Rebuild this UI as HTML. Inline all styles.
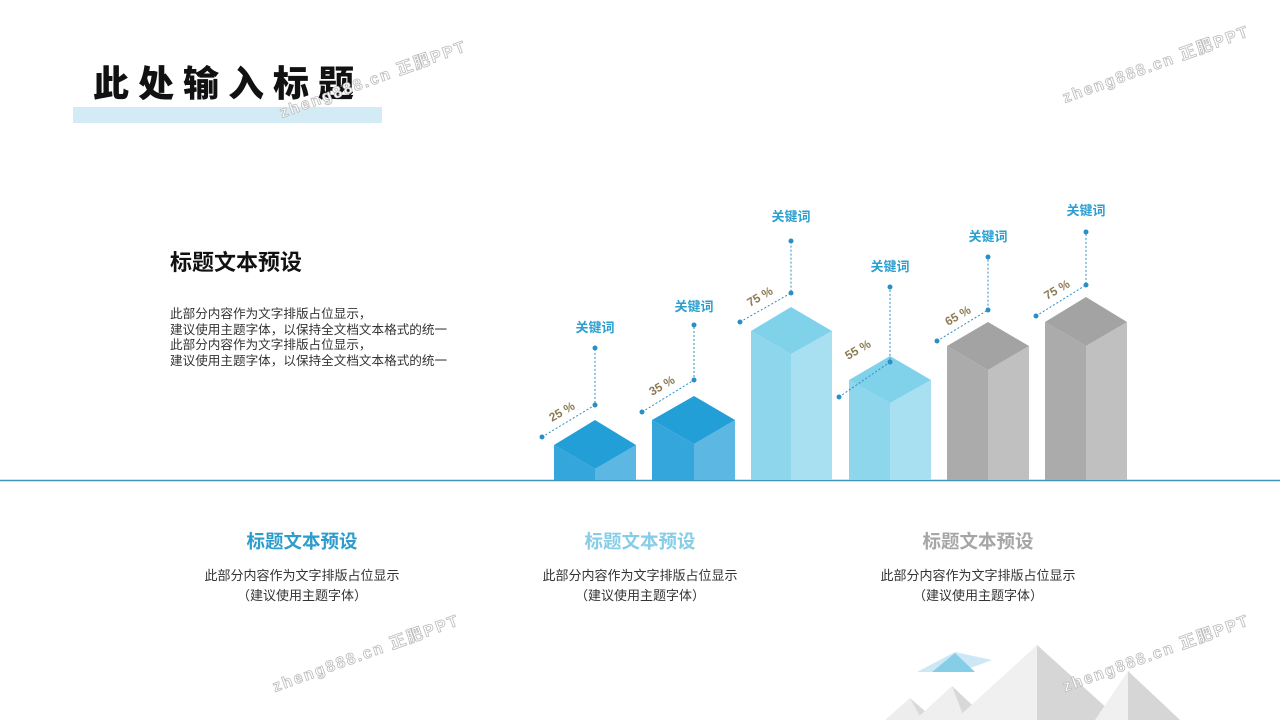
<!DOCTYPE html>
<html><head><meta charset="utf-8"><style>
body{margin:0;width:1280px;height:720px;overflow:hidden;background:#fff;font-family:"Liberation Sans","Noto Sans CJK SC",sans-serif}
svg{position:absolute;left:0;top:0}
</style></head><body>
<svg width="1280" height="720" viewBox="0 0 1280 720" font-family="'Liberation Sans','Noto Sans CJK SC',sans-serif">
<rect x="73" y="107" width="309" height="16" fill="#d3ebf5"/>
<text x="93" y="96" font-size="36" font-weight="900" fill="#111" letter-spacing="9">此处输入标题</text>
<text x="170" y="270" font-size="22" font-weight="bold" fill="#111">标题文本预设</text>
<g font-size="12.6" fill="#333">
<text x="170" y="318">此部分内容作为文字排版占位显示，</text>
<text x="170" y="334">建议使用主题字体，以保持全文档文本格式的统一</text>
<text x="170" y="349">此部分内容作为文字排版占位显示，</text>
<text x="170" y="365">建议使用主题字体，以保持全文档文本格式的统一</text>
</g>
<!-- mountains -->
<polygon points="917,672 955,652 992,660 960,672" fill="#cde8f4"/>
<polygon points="932,672 955,653 975,672" fill="#86cde8"/>
<polygon points="885,720 910,698 935,720" fill="#ededed"/>
<polygon points="910,698 935,720 922,720" fill="#d9d9d9"/>
<polygon points="915,720 952,686 988,720" fill="#efefef"/>
<polygon points="952,686 988,720 965,720" fill="#d8d8d8"/>
<polygon points="955,720 1037,645 1120,720" fill="#f0f0f0"/>
<polygon points="1037,645 1120,720 1037,720" fill="#d6d6d6"/>
<polygon points="1095,720 1128,671 1180,720" fill="#f0f0f0"/>
<polygon points="1128,671 1180,720 1128,720" fill="#d6d6d6"/>
<line x1="0" y1="480.5" x2="1280" y2="480.5" stroke="#3c97b8" stroke-width="1.5"/>
<!-- bars -->
<g>
<polygon points="554,445 595,469 595,480 554,480" fill="#35a6db"/><polygon points="595,469 636,445 636,480 595,480" fill="#5cb8e3"/><polygon points="554,445 595,420 636,445 595,469" fill="#239fd8"/>
<polygon points="652,420 694,444 694,480 652,480" fill="#35a6db"/><polygon points="694,444 735,420 735,480 694,480" fill="#5cb8e3"/><polygon points="652,420 694,396 735,420 694,444" fill="#239fd8"/>
<polygon points="751,331 791,354 791,480 751,480" fill="#8dd6ec"/><polygon points="791,354 832,331 832,480 791,480" fill="#a8e0f1"/><polygon points="751,331 791,307 832,331 791,354" fill="#7fd2ea"/>
<polygon points="849,380 890,403 890,480 849,480" fill="#8dd6ec"/><polygon points="890,403 931,380 931,480 890,480" fill="#a8e0f1"/><polygon points="849,380 890,356 931,380 890,403" fill="#7fd2ea"/>
<polygon points="947,346 988,370 988,480 947,480" fill="#ababab"/><polygon points="988,370 1029,346 1029,480 988,480" fill="#c0c0c0"/><polygon points="947,346 988,322 1029,346 988,370" fill="#a3a3a3"/>
<polygon points="1045,322 1086,346 1086,480 1045,480" fill="#ababab"/><polygon points="1086,346 1127,322 1127,480 1086,480" fill="#c0c0c0"/><polygon points="1045,322 1086,297 1127,322 1086,346" fill="#a3a3a3"/>
</g>
<g stroke="#2a8fc6" stroke-width="1" stroke-dasharray="2,2" fill="none">
<polyline points="542,437 595,405 595,348"/>
<polyline points="642,412 694,380 694,325"/>
<polyline points="740,322 791,293 791,241"/>
<polyline points="839,397 890,362 890,287"/>
<polyline points="937,341 988,310 988,257"/>
<polyline points="1036,316 1086,285 1086,232"/>
</g>
<g fill="#2a8fc6">
<circle cx="542" cy="437" r="2.5"/><circle cx="595" cy="405" r="2.5"/><circle cx="595" cy="348" r="2.5"/>
<circle cx="642" cy="412" r="2.5"/><circle cx="694" cy="380" r="2.5"/><circle cx="694" cy="325" r="2.5"/>
<circle cx="740" cy="322" r="2.5"/><circle cx="791" cy="293" r="2.5"/><circle cx="791" cy="241" r="2.5"/>
<circle cx="839" cy="397" r="2.5"/><circle cx="890" cy="362" r="2.5"/><circle cx="890" cy="287" r="2.5"/>
<circle cx="937" cy="341" r="2.5"/><circle cx="988" cy="310" r="2.5"/><circle cx="988" cy="257" r="2.5"/>
<circle cx="1036" cy="316" r="2.5"/><circle cx="1086" cy="285" r="2.5"/><circle cx="1086" cy="232" r="2.5"/>
</g>
<g font-size="13" font-weight="bold" fill="#2a9fd0" text-anchor="middle">
<text x="595" y="332">关键词</text><text x="694" y="311">关键词</text><text x="791" y="221">关键词</text>
<text x="890" y="271">关键词</text><text x="988" y="241">关键词</text><text x="1086" y="215">关键词</text>
</g>
<g font-size="12" font-weight="bold" fill="#8c7b55" font-family="'Liberation Sans Narrow','Liberation Sans',sans-serif">
<text transform="translate(552,422) rotate(-30)">25 %</text>
<text transform="translate(652,396) rotate(-30)">35 %</text>
<text transform="translate(750,307) rotate(-30)">75 %</text>
<text transform="translate(848,360) rotate(-30)">55 %</text>
<text transform="translate(948,326) rotate(-30)">65 %</text>
<text transform="translate(1047,300) rotate(-30)">75 %</text>
</g>
<g text-anchor="middle">
<text x="302" y="548" font-size="18.5" font-weight="bold" fill="#2e9ccc">标题文本预设</text>
<text x="640" y="548" font-size="18.5" font-weight="bold" fill="#86cde8">标题文本预设</text>
<text x="978" y="548" font-size="18.5" font-weight="bold" fill="#a6a6a6">标题文本预设</text>
<g font-size="13" fill="#333">
<text x="302" y="580">此部分内容作为文字排版占位显示</text><text x="302" y="600">（建议使用主题字体）</text>
<text x="640" y="580">此部分内容作为文字排版占位显示</text><text x="640" y="600">（建议使用主题字体）</text>
<text x="978" y="580">此部分内容作为文字排版占位显示</text><text x="978" y="600">（建议使用主题字体）</text>
</g>
</g>
<g font-size="16" font-weight="bold" fill="#fff" stroke="#bbb" stroke-width="0.8" letter-spacing="2">
<text transform="translate(282,118) rotate(-20)">zheng888.cn 正肥PPT</text>
<text transform="translate(1065,103) rotate(-20)">zheng888.cn 正肥PPT</text>
<text transform="translate(275,692) rotate(-20)">zheng888.cn 正肥PPT</text>
<text transform="translate(1065,692) rotate(-20)">zheng888.cn 正肥PPT</text>
</g>
</svg>
</body></html>
